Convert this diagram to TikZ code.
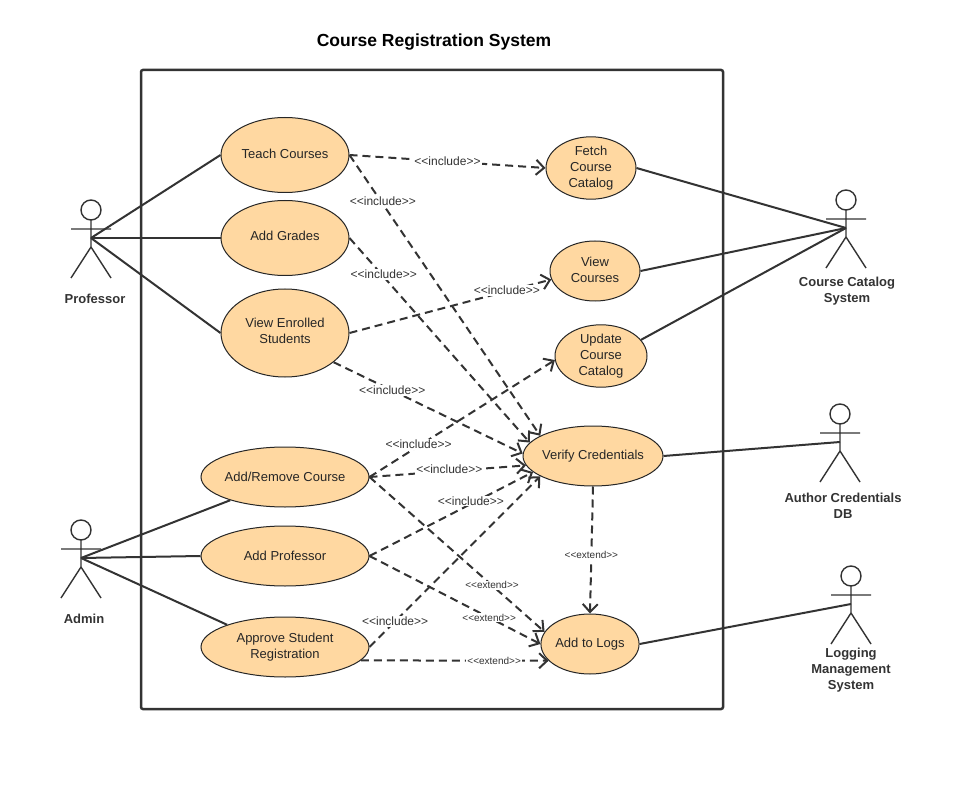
\documentclass[tikz,border=0pt]{standalone}
\usepackage{fontspec}
\setmainfont{Liberation Sans}
\usetikzlibrary{shapes.geometric,arrows.meta}
\definecolor{uc}{HTML}{FFD8A1}
\definecolor{ink}{HTML}{333333}
\tikzset{
 usecase/.style={ellipse,draw=black!85,line width=1pt,fill=uc,inner sep=0pt,align=center,font=\fontsize{13}{16}\selectfont,text=black!85},
 tight/.style={inner sep=-8pt},
 lift/.style={text depth=#1},
 assoc/.style={draw=ink,line width=2pt},
 dep/.style={draw=ink,line width=2pt,dash pattern=on 8pt off 5pt,-{Straight Barb[length=8pt,width=15pt,line width=2pt]}},
 lab/.style={fill=white,inner sep=1pt,text=ink,font=\fontsize{12}{14}\selectfont},
 labs/.style={fill=white,inner sep=1pt,text=ink,font=\fontsize{10}{12}\selectfont},
 actorname/.style={align=center,text=ink,font=\bfseries\fontsize{13}{16}\selectfont},
 actor/.pic={
  \draw[ink,line width=1.4pt] (0,-10) circle[radius=10];
  \draw[ink,line width=1.4pt] (0,0) -- (0,27) (-20,9) -- (20,9) (-20,58) -- (0,27) -- (20,58);
  \coordinate (-c) at (0,18);
 }
}
\begin{document}
\begin{tikzpicture}[x=1pt,y=-1pt]
\useasboundingbox (0,0) rectangle (961,786);
\fill[white] (0,0) rectangle (961,786);
\node (title) at (434,42) {\bfseries\fontsize{17.5}{20}\selectfont Course Registration System};
\node[draw=ink,line width=2.5pt,rounded corners=2pt,minimum width=582pt,minimum height=639pt,inner sep=0pt] (frame) at (432,389.5) {};

\pic (prof) at (91,220) {actor};
\pic (admin) at (81,540) {actor};
\pic (cat) at (846,210) {actor};
\pic (auth) at (840,424) {actor};
\pic (logm) at (851,586) {actor};
\node[actorname] (profn) at (95,299) {Professor};
\node[actorname] (adminn) at (84,619) {Admin};
\node[actorname] (catn) at (847,291) {Course Catalog\\System};
\node[actorname] (authn) at (843,506) {Author Credentials\\DB};
\node[actorname] (logn) at (851,670) {Logging\\Management\\System};

\node[usecase,lift=2.5pt,minimum width=128pt,minimum height=75pt] (teach) at (285,155) {Teach Courses};
\node[usecase,lift=3.5pt,minimum width=128pt,minimum height=75pt] (grades) at (285,238) {Add Grades};
\node[usecase,lift=4pt,minimum width=128pt,minimum height=88pt] (enrolled) at (285,333) {View Enrolled\\Students};
\node[usecase,minimum width=90pt,minimum height=60pt] (fetch) at (591,168) {Fetch\\Course\\Catalog};
\node[usecase,lift=2pt,minimum width=90pt,minimum height=60pt] (viewc) at (595,271) {View\\Courses};
\node[usecase,minimum width=92pt,minimum height=60pt] (update) at (601,356) {Update\\Course\\Catalog};
\node[usecase,tight,minimum width=140pt,minimum height=60pt] (verify) at (593,456) {Verify Credentials};
\node[usecase,tight,minimum width=168pt,minimum height=60pt] (addrem) at (285,477) {Add/Remove Course};
\node[usecase,minimum width=168pt,minimum height=60pt] (addprof) at (285,556) {Add Professor};
\node[usecase,minimum width=168pt,minimum height=60pt] (approve) at (285,647) {Approve Student\\Registration};
\node[usecase,minimum width=98pt,minimum height=60pt] (logs) at (590,644) {Add to Logs};

\draw[assoc] (prof-c) -- (teach.west);
\draw[assoc] (prof-c) -- (grades.west);
\draw[assoc] (prof-c) -- (enrolled.west);
\draw[assoc] (admin-c) -- (addrem.203);
\draw[assoc] (admin-c) -- (addprof.west);
\draw[assoc] (admin-c) -- (approve.159);
\draw[assoc] (fetch.east) -- (cat-c);
\draw[assoc] (viewc.east) -- (cat-c);
\draw[assoc] (update.22) -- (cat-c);
\draw[assoc] (verify.east) -- (auth-c);
\draw[assoc] (logs.east) -- (logm-c);

\draw[dep] (teach.east) -- node[lab,pos=.5] {<{}<include>{}>} (fetch.west);
\draw[dep] (teach.east) -- node[lab,pos=.175,yshift=2.5pt] {<{}<include>{}>} (verify.159);
\draw[dep] (grades.east) -- node[lab,pos=.19,yshift=2.5pt] {<{}<include>{}>} (verify.168);
\draw[dep] (enrolled.east) -- node[lab,pos=.78,yshift=1pt] {<{}<include>{}>} (viewc.191);
\draw[dep] (enrolled.329) -- node[lab,pos=.31] {<{}<include>{}>} (verify.178);
\draw[dep] (addrem.east) -- node[lab,pos=.27,yshift=1pt,xshift=-1pt] {<{}<include>{}>} (update.185);
\draw[dep] (addrem.east) -- node[lab,pos=.51,yshift=2pt] {<{}<include>{}>} (verify.188);
\draw[dep] (addrem.east) -- node[labs,pos=.70] {<{}<extend>{}>} (logs.165);
\draw[dep] (addprof.east) -- node[lab,pos=.62,yshift=3pt] {<{}<include>{}>} (verify.195);
\draw[dep] (addprof.east) -- node[labs,pos=.70] {<{}<extend>{}>} (logs.west);
\draw[dep] (approve.east) -- node[lab,pos=.15] {<{}<include>{}>} (verify.201);
\draw[dep] (approve.350) -- node[labs,pos=.71] {<{}<extend>{}>} (logs.202);
\draw[dep] (verify.south) -- node[labs,pos=.54] {<{}<extend>{}>} (logs.north);
\end{tikzpicture}
\end{document}
